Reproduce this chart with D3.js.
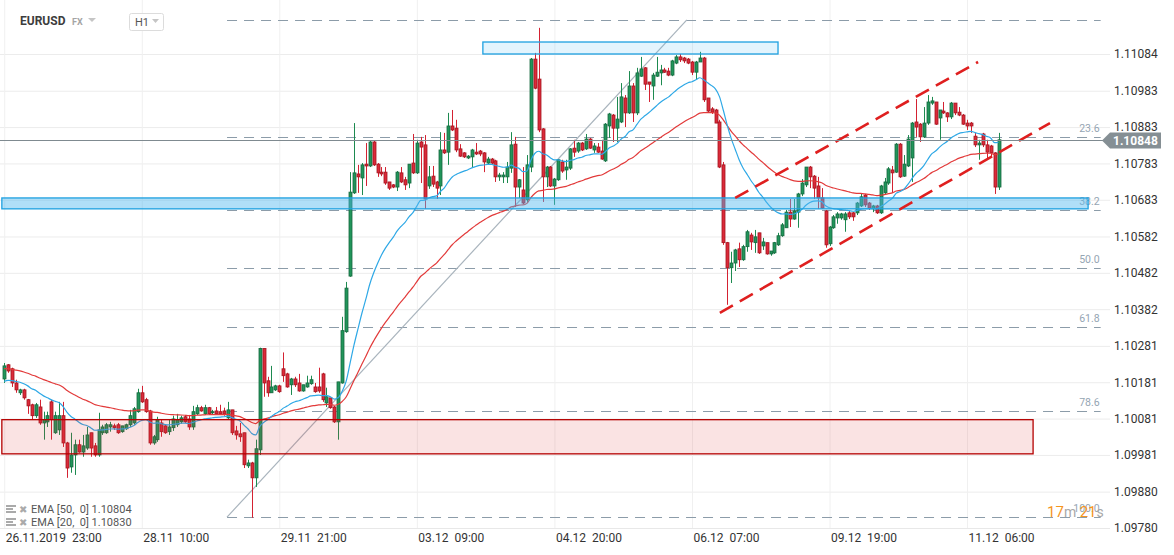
<!DOCTYPE html>
<html><head><meta charset="utf-8">
<script src="https://cdn.jsdelivr.net/npm/d3@7"></script>
<style>
html,body{margin:0;padding:0;background:#fff;}
svg{display:block;font-family:Roboto,"Noto Sans",sans-serif;}
</style></head><body>
<svg id="chart" width="1174" height="555"></svg>
<script>
// ---------- data ----------
const symbol = "EURUSD";
const market = "FX";
const timeframe = "H1";
const xTickBars = [0, 35, 70, 105, 140, 175, 210, 245];
const xTickLabels = ["26.11.2019  23:00", "28.11  10:00", "29.11  21:00", "03.12  09:00", "04.12  20:00", "06.12  07:00", "09.12  19:00", "11.12  06:00"];
const priceTicks = [1.11084, 1.10983, 1.10883, 1.10783, 1.10683, 1.10582, 1.10482, 1.10382, 1.10281, 1.10181, 1.10081, 1.09981, 1.09880, 1.09780];

const opens = [1.10190,1.10229,1.10218,1.10179,1.10152,1.10160,1.10133,1.10119,1.10089,1.10113,1.10069,1.10072,1.10127,1.10042,1.10050,1.10089,1.10014,1.09948,1.09981,1.10009,
1.09989,1.10000,1.10042,1.10006,1.09981,1.10042,1.10042,1.10058,1.10061,1.10064,1.10045,1.10053,1.10064,1.10069,1.10100,1.10152,1.10133,1.10102,1.10014,1.10023,
1.10069,1.10061,1.10045,1.10056,1.10064,1.10072,1.10086,1.10080,1.10058,1.10094,1.10111,1.10094,1.10111,1.10097,1.10102,1.10100,1.10102,1.10083,1.10105,1.10047,
1.10039,1.10042,1.09951,1.09959,1.09918,1.09995,1.10274,1.10185,1.10152,1.10160,1.10171,1.10218,1.10204,1.10174,1.10190,1.10179,1.10157,1.10168,1.10177,1.10168,
1.10168,1.10204,1.10124,1.10138,1.10113,1.10072,1.10179,1.10320,1.10473,1.10702,1.10754,1.10743,1.10781,1.10776,1.10842,1.10781,1.10759,1.10759,1.10732,1.10724,
1.10718,1.10757,1.10738,1.10729,1.10784,1.10757,1.10842,1.10834,1.10721,1.10748,1.10732,1.10721,1.10820,1.10814,1.10886,1.10880,1.10823,1.10812,1.10798,1.10801,
1.10814,1.10817,1.10812,1.10784,1.10795,1.10790,1.10746,1.10746,1.10746,1.10770,1.10836,1.10718,1.10710,1.10683,1.10773,1.11070,1.11015,1.10878,1.10746,1.10773,
1.10721,1.10738,1.10787,1.10765,1.10770,1.10825,1.10817,1.10839,1.10823,1.10850,1.10820,1.10828,1.10817,1.10790,1.10886,1.10916,1.10880,1.10897,1.10963,1.10922,
1.10996,1.10922,1.11023,1.11046,1.11007,1.10996,1.11023,1.11032,1.11040,1.11037,1.11026,1.11059,1.11076,1.11073,1.11070,1.11062,1.11034,1.11062,1.11073,1.10963,
1.10933,1.10930,1.10897,1.10779,1.10565,1.10496,1.10509,1.10548,1.10518,1.10554,1.10586,1.10565,1.10592,1.10556,1.10565,1.10534,1.10537,1.10559,1.10584,1.10606,
1.10649,1.10630,1.10649,1.10699,1.10724,1.10773,1.10748,1.10721,1.10688,1.10652,1.10562,1.10606,1.10633,1.10633,1.10628,1.10647,1.10647,1.10647,1.10666,1.10696,
1.10674,1.10658,1.10666,1.10647,1.10702,1.10729,1.10765,1.10759,1.10836,1.10748,1.10776,1.10798,1.10897,1.10891,1.10856,1.10894,1.10949,1.10952,1.10908,1.10927,
1.10922,1.10911,1.10949,1.10924,1.10916,1.10894,1.10894,1.10858,1.10834,1.10864,1.10834,1.10831,1.10812,1.10718];

const highs = [1.10234,1.10231,1.10221,1.10188,1.10163,1.10163,1.10135,1.10122,1.10124,1.10133,1.10100,1.10100,1.10133,1.10100,1.10127,1.10127,1.10017,1.10042,1.10023,1.10023,
1.10036,1.10058,1.10042,1.10014,1.10097,1.10064,1.10069,1.10072,1.10067,1.10069,1.10061,1.10067,1.10105,1.10113,1.10163,1.10171,1.10138,1.10105,1.10036,1.10086,
1.10078,1.10064,1.10078,1.10089,1.10094,1.10089,1.10091,1.10091,1.10116,1.10119,1.10116,1.10119,1.10113,1.10105,1.10113,1.10119,1.10111,1.10127,1.10105,1.10061,
1.10069,1.10042,1.09968,1.09962,1.10023,1.10276,1.10274,1.10196,1.10226,1.10174,1.10174,1.10263,1.10207,1.10193,1.10196,1.10204,1.10174,1.10199,1.10199,1.10179,
1.10221,1.10207,1.10166,1.10138,1.10116,1.10182,1.10361,1.10457,1.10759,1.10894,1.10779,1.10784,1.10839,1.10845,1.10845,1.10784,1.10773,1.10773,1.10732,1.10726,
1.10762,1.10773,1.10746,1.10781,1.10864,1.10848,1.10856,1.10861,1.10776,1.10776,1.10735,1.10869,1.10867,1.10922,1.10930,1.10903,1.10836,1.10814,1.10806,1.10823,
1.10839,1.10820,1.10814,1.10801,1.10798,1.10793,1.10757,1.10759,1.10787,1.10869,1.10856,1.10740,1.10773,1.10806,1.11073,1.11087,1.11156,1.10880,1.10776,1.10776,
1.10743,1.10795,1.10793,1.10793,1.10825,1.10848,1.10842,1.10842,1.10864,1.10853,1.10839,1.10839,1.10848,1.10894,1.10922,1.10919,1.10966,1.11004,1.10971,1.11037,
1.11004,1.11046,1.11076,1.11048,1.11007,1.11032,1.11076,1.11054,1.11046,1.11046,1.11068,1.11081,1.11084,1.11076,1.11073,1.11065,1.11065,1.11090,1.11076,1.10963,
1.10938,1.10933,1.10903,1.10787,1.10567,1.10540,1.10548,1.10565,1.10559,1.10600,1.10592,1.10600,1.10592,1.10578,1.10565,1.10542,1.10567,1.10592,1.10619,1.10655,
1.10685,1.10685,1.10702,1.10740,1.10773,1.10776,1.10751,1.10746,1.10715,1.10655,1.10611,1.10641,1.10649,1.10647,1.10649,1.10652,1.10649,1.10677,1.10699,1.10699,
1.10677,1.10669,1.10669,1.10724,1.10743,1.10773,1.10776,1.10839,1.10839,1.10806,1.10861,1.10897,1.10960,1.10894,1.10938,1.10971,1.10966,1.10952,1.10930,1.10952,
1.10924,1.10952,1.10949,1.10938,1.10919,1.10903,1.10897,1.10867,1.10848,1.10867,1.10848,1.10834,1.10814,1.10867];

const lows = [1.10179,1.10207,1.10168,1.10152,1.10146,1.10133,1.10094,1.10078,1.10083,1.10064,1.10023,1.10058,1.10023,1.10039,1.10036,1.10003,1.09918,1.09932,1.09926,1.09987,
1.09976,1.09995,1.09976,1.09976,1.09976,1.10036,1.10039,1.10045,1.10050,1.10039,1.10042,1.10050,1.10058,1.10064,1.10097,1.10124,1.10097,1.10009,1.10009,1.10017,
1.10031,1.10039,1.10036,1.10047,1.10058,1.10067,1.10069,1.10050,1.10050,1.10091,1.10100,1.10091,1.10091,1.10091,1.10091,1.10091,1.10089,1.10080,1.10036,1.10023,
1.10017,1.09945,1.09945,1.09808,1.09893,1.09981,1.10141,1.10141,1.10152,1.10157,1.10152,1.10182,1.10166,1.10146,1.10168,1.10155,1.10155,1.10166,1.10174,1.10152,
1.10152,1.10127,1.10113,1.10108,1.10069,1.10023,1.10177,1.10317,1.10471,1.10699,1.10702,1.10696,1.10721,1.10773,1.10776,1.10746,1.10748,1.10724,1.10710,1.10715,
1.10707,1.10729,1.10710,1.10715,1.10754,1.10754,1.10729,1.10658,1.10713,1.10718,1.10685,1.10696,1.10809,1.10779,1.10872,1.10814,1.10801,1.10798,1.10795,1.10773,
1.10806,1.10803,1.10759,1.10779,1.10779,1.10732,1.10735,1.10729,1.10729,1.10757,1.10663,1.10688,1.10671,1.10677,1.10759,1.10987,1.10869,1.10677,1.10718,1.10718,
1.10669,1.10735,1.10757,1.10738,1.10765,1.10801,1.10812,1.10817,1.10820,1.10823,1.10812,1.10812,1.10793,1.10787,1.10853,1.10842,1.10842,1.10894,1.10883,1.10919,
1.10897,1.10916,1.11021,1.10985,1.10952,1.10958,1.11021,1.10998,1.11032,1.11023,1.11023,1.11056,1.11062,1.11059,1.11056,1.11026,1.11013,1.11062,1.10952,1.10922,
1.10919,1.10894,1.10770,1.10559,1.10394,1.10454,1.10487,1.10498,1.10515,1.10540,1.10545,1.10537,1.10534,1.10545,1.10532,1.10529,1.10534,1.10556,1.10581,1.10606,
1.10608,1.10628,1.10606,1.10693,1.10718,1.10715,1.10685,1.10658,1.10658,1.10551,1.10556,1.10603,1.10617,1.10628,1.10595,1.10630,1.10625,1.10641,1.10663,1.10663,
1.10655,1.10649,1.10644,1.10644,1.10699,1.10724,1.10702,1.10757,1.10743,1.10746,1.10773,1.10732,1.10856,1.10842,1.10853,1.10889,1.10944,1.10889,1.10848,1.10919,
1.10897,1.10905,1.10916,1.10913,1.10889,1.10875,1.10867,1.10828,1.10793,1.10828,1.10793,1.10803,1.10699,1.10710];

const closes = [1.10226,1.10212,1.10179,1.10160,1.10160,1.10138,1.10116,1.10089,1.10119,1.10069,1.10078,1.10089,1.10078,1.10089,1.10089,1.10014,1.09945,1.09981,1.10009,1.09989,
1.10006,1.10036,1.10000,1.09981,1.10050,1.10058,1.10064,1.10064,1.10056,1.10042,1.10061,1.10064,1.10089,1.10108,1.10152,1.10127,1.10100,1.10014,1.10031,1.10078,
1.10045,1.10042,1.10058,1.10080,1.10078,1.10083,1.10072,1.10058,1.10100,1.10111,1.10102,1.10111,1.10094,1.10100,1.10094,1.10094,1.10094,1.10105,1.10042,1.10036,
1.10031,1.09954,1.09959,1.09918,1.09998,1.10274,1.10179,1.10152,1.10168,1.10171,1.10155,1.10199,1.10168,1.10190,1.10174,1.10157,1.10174,1.10179,1.10188,1.10155,
1.10157,1.10133,1.10141,1.10111,1.10072,1.10182,1.10323,1.10440,1.10704,1.10757,1.10746,1.10779,1.10776,1.10842,1.10779,1.10757,1.10754,1.10729,1.10715,1.10718,
1.10759,1.10732,1.10724,1.10781,1.10757,1.10839,1.10828,1.10685,1.10746,1.10726,1.10715,1.10820,1.10812,1.10886,1.10875,1.10820,1.10803,1.10801,1.10803,1.10820,
1.10809,1.10809,1.10787,1.10795,1.10784,1.10746,1.10751,1.10751,1.10773,1.10834,1.10718,1.10738,1.10674,1.10779,1.11070,1.10990,1.10875,1.10746,1.10773,1.10721,
1.10740,1.10793,1.10762,1.10773,1.10823,1.10814,1.10839,1.10820,1.10850,1.10825,1.10831,1.10814,1.10795,1.10891,1.10919,1.10880,1.10905,1.10966,1.10922,1.10996,
1.10922,1.11032,1.11043,1.11001,1.11001,1.11026,1.11034,1.11040,1.11034,1.11026,1.11065,1.11076,1.11068,1.11065,1.11059,1.11034,1.11062,1.11073,1.10958,1.10927,
1.10924,1.10894,1.10773,1.10565,1.10496,1.10509,1.10545,1.10518,1.10554,1.10595,1.10567,1.10581,1.10537,1.10567,1.10534,1.10542,1.10565,1.10584,1.10614,1.10649,
1.10630,1.10652,1.10699,1.10729,1.10773,1.10746,1.10715,1.10688,1.10660,1.10559,1.10608,1.10636,1.10644,1.10644,1.10644,1.10636,1.10636,1.10674,1.10691,1.10669,
1.10660,1.10666,1.10647,1.10721,1.10732,1.10768,1.10757,1.10836,1.10746,1.10781,1.10850,1.10894,1.10883,1.10856,1.10894,1.10952,1.10955,1.10891,1.10930,1.10922,
1.10911,1.10949,1.10922,1.10916,1.10891,1.10886,1.10886,1.10834,1.10839,1.10834,1.10814,1.10812,1.10718,1.10848];

// indicator settings and starting values read at the left edge
const emaPeriods = [50, 20];
const emaSeeds = [1.10218, 1.10179];
const emaLegendValues = ["1.10804", "1.10830"];

// drawings (bar index, price)
const fibAnchorBars = [56.7, 173.7];
const fibAnchorPrices = [1.09810, 1.11178];
const fibRatios = [0, 23.6, 38.2, 50.0, 61.8, 78.6, 100.0];
const fibEndBar = 279;
const zoneTop = {bars: [121.8, 196.9], prices: [1.11117, 1.11084]};
const zoneMid = {bars: [-0.6, 275.8], prices: [1.10688, 1.10658]};
const zoneLow = {bars: [-0.6, 261.8], prices: [1.10078, 1.09984]};
const channelUpper = {bars: [186.0, 247.8], prices: [1.10688, 1.11062]};
const channelLower = {bars: [182.1, 266.1], prices: [1.10372, 1.10894]};
const timerText = ["17", "m ", "21", "s"];

// ---------- chart ----------
const svg = d3.select("#chart");
const W = 1174, H = 555;
const plotRight = 1110, plotBottom = 528;
const x = d3.scaleLinear().domain([0, 253]).range([4.2, 998.5]);
const y = d3.scaleLinear().domain([1.09780, 1.11084]).range([528, 54]);
const fmt = d3.format(".5f");

// y axis with grid
const yAxis = svg.append("g").attr("transform", `translate(${plotRight},0)`)
  .call(d3.axisRight(y).tickValues(priceTicks).tickFormat(fmt).tickSize(-plotRight).tickPadding(4));
yAxis.select(".domain").remove();
yAxis.selectAll("line").attr("stroke", "#ececec");
yAxis.selectAll("text").attr("fill", "#333").style("font-size", "12px").style("font-family", "Roboto");

// x axis with vertical grid
const xAxis = svg.append("g").attr("transform", `translate(0,${plotBottom})`)
  .call(d3.axisBottom(x).tickValues(xTickBars).tickFormat((d, i) => xTickLabels[i]).tickSize(-plotBottom));
xAxis.select(".domain").attr("stroke", "#e8e8e8").attr("d", `M0,0.5H${plotRight}`);
xAxis.selectAll("line").attr("stroke", "#f0f0f0");
xAxis.selectAll("text").attr("fill", "#333").attr("text-anchor", "start").attr("y", 14).attr("dy", null)
  .attr("x", 1).style("font-size", "12px").style("font-family", "Roboto").style("white-space", "pre");

// fibonacci levels
const fibHi = fibAnchorPrices[1], fibLo = fibAnchorPrices[0];
const fibG = svg.append("g");
fibRatios.forEach(r => {
  const p = fibHi - r / 100 * (fibHi - fibLo);
  fibG.append("line").attr("x1", x(fibAnchorBars[0])).attr("x2", x(fibEndBar))
    .attr("y1", Math.round(y(p)) + 0.5).attr("y2", Math.round(y(p)) + 0.5)
    .attr("stroke", "#8c9ca9").attr("stroke-width", 1).attr("stroke-dasharray", "10,7");
  if (r > 0) {
    fibG.append("text").attr("x", x(fibEndBar) - 1).attr("y", y(p) - 5).attr("text-anchor", "end")
      .attr("fill", "#95a5b3").style("font-size", "10.5px").text(r.toFixed(1));
  }
});
fibG.append("line")
  .attr("x1", x(fibAnchorBars[0])).attr("y1", y(fibAnchorPrices[0]))
  .attr("x2", x(fibAnchorBars[1])).attr("y2", y(fibAnchorPrices[1]))
  .attr("stroke", "#a9b4bd").attr("stroke-width", 1.2);

// candles
const idx = d3.range(closes.length);
const cg = svg.append("g");
const up = "#1d8a50", dn = "#d42232";
cg.selectAll("line.wick").data(idx).join("line").attr("class", "wick")
  .attr("x1", i => Math.round(x(i)) + 0.5).attr("x2", i => Math.round(x(i)) + 0.5)
  .attr("y1", i => y(highs[i])).attr("y2", i => y(lows[i]))
  .attr("stroke", i => closes[i] >= opens[i] ? up : dn).attr("stroke-width", 1);
cg.selectAll("rect.body").data(idx).join("rect").attr("class", "body")
  .attr("x", i => Math.round(x(i)) - 1)
  .attr("width", 3)
  .attr("y", i => Math.min(y(opens[i]), y(closes[i])))
  .attr("height", i => Math.max(1, Math.abs(y(opens[i]) - y(closes[i]))))
  .attr("fill", i => closes[i] >= opens[i] ? "#21955a" : "#db2a3a")
  .attr("stroke", i => closes[i] >= opens[i] ? "#17683f" : "#a3151f").attr("stroke-width", 0.8);

// EMA lines
function ema(vals, period, seed) {
  const k = 2 / (period + 1); let prev = seed;
  return vals.map(v => (prev = v * k + prev * (1 - k)));
}
const emaColors = ["#e23a3a", "#2ea8e6"];
emaPeriods.forEach((p, j) => {
  const e = ema(closes, p, emaSeeds[j]);
  svg.append("path").datum(e)
    .attr("d", d3.line().x((d, i) => x(i)).y(d => y(d)).curve(d3.curveMonotoneX))
    .attr("fill", "none").attr("stroke", emaColors[j]).attr("stroke-width", 1.2);
});

// zones
function zone(z, fill, fo, stroke) {
  svg.append("rect")
    .attr("x", x(z.bars[0])).attr("width", x(z.bars[1]) - x(z.bars[0]))
    .attr("y", y(z.prices[0])).attr("height", y(z.prices[1]) - y(z.prices[0]))
    .attr("fill", fill).attr("fill-opacity", fo).attr("stroke", stroke).attr("stroke-width", 1.3);
}
zone(zoneTop, "#50b9f0", 0.16, "#1ea0e0");
zone(zoneMid, "#50b9f0", 0.45, "#1ea0e0");
zone(zoneLow, "#dc3c3c", 0.14, "#b40000");

// channel
[channelUpper, channelLower].forEach(c => {
  svg.append("line")
    .attr("x1", x(c.bars[0])).attr("y1", y(c.prices[0]))
    .attr("x2", x(c.bars[1])).attr("y2", y(c.prices[1]))
    .attr("stroke", "#df1f1f").attr("stroke-width", 2.6).attr("stroke-dasharray", "15,8");
});

// current price
const last = closes[closes.length - 1];
const ly = Math.round(y(last)) + 0.5;
svg.append("line").attr("x1", 0).attr("x2", 1103).attr("y1", ly).attr("y2", ly)
  .attr("stroke", "#7f8a90").attr("stroke-width", 1);
svg.append("path").attr("d", `M1102,${ly}L1110,${ly - 8}H1161V${ly + 8}H1110Z`).attr("fill", "#858f94");
svg.append("text").attr("x", 1113).attr("y", ly + 4.5).attr("fill", "#fff")
  .style("font-size", "12px").style("font-weight", "bold").text(fmt(last));

// header
svg.append("text").attr("x", 20).attr("y", 25).attr("fill", "#3d3d3d")
  .style("font-size", "12px").style("font-weight", "bold").text(symbol);
svg.append("text").attr("x", 72).attr("y", 25).attr("fill", "#a5a5a5")
  .style("font-size", "9px").style("font-weight", "bold").text(market);
svg.append("path").attr("d", "M88,18H96L92,22Z").attr("fill", "#c5c5c5");
svg.append("rect").attr("x", 129.5).attr("y", 13.5).attr("width", 34).attr("height", 17).attr("rx", 2)
  .attr("fill", "#fff").attr("stroke", "#dcdcdc");
svg.append("text").attr("x", 135).attr("y", 26).attr("fill", "#555").style("font-size", "11px").text(timeframe);
svg.append("path").attr("d", "M152,19H159L155.5,23Z").attr("fill", "#c5c5c5");

// legend
emaPeriods.forEach((p, j) => {
  const by = 513 + j * 13;
  const g = svg.append("g");
  g.append("rect").attr("x", 6).attr("y", by - 8).attr("width", 10).attr("height", 2).attr("fill", "#aaa");
  g.append("rect").attr("x", 6).attr("y", by - 5).attr("width", 7).attr("height", 2).attr("fill", "#aaa");
  g.append("rect").attr("x", 6).attr("y", by - 2).attr("width", 10).attr("height", 2).attr("fill", "#aaa");
  g.append("text").attr("x", 19).attr("y", by).attr("fill", "#aaa").style("font-size", "10px").text("✖");
  g.append("text").attr("x", 31).attr("y", by).attr("fill", "#555").style("font-size", "11px")
    .style("white-space", "pre").text(`EMA [${p},  0] ${emaLegendValues[j]}`);
});

// timer
const tt = svg.append("text").attr("x", 1047).attr("y", 517);
timerText.forEach((t, i) => {
  tt.append("tspan").text(t).attr("fill", i % 2 === 0 ? "#f5951f" : "#a8a8a8")
    .style("font-size", i % 2 === 0 ? "15px" : "14px").style("white-space", "pre");
});
</script>
</body></html>
